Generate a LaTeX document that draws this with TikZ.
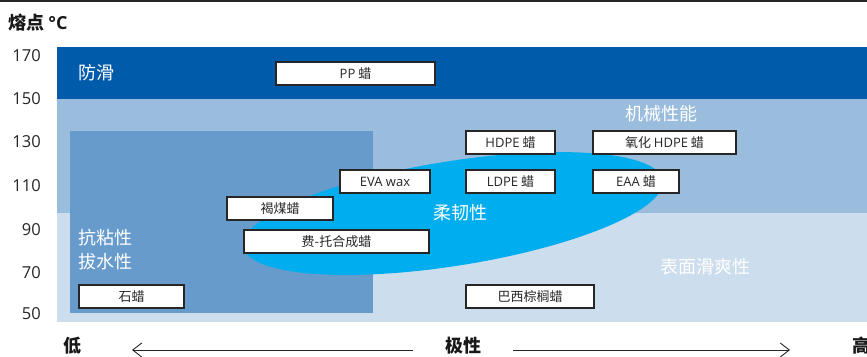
\documentclass[tikz,border=0pt]{standalone}
\usepackage{fontspec}
\setmainfont{Noto Sans CJK SC}
\newfontfamily\lat{Open Sans}
\usetikzlibrary{arrows.meta}
\definecolor{dblue}{RGB}{0,91,170}
\definecolor{mblue}{RGB}{155,189,221}
\definecolor{lblue}{RGB}{204,221,238}
\definecolor{iblue}{RGB}{102,155,204}
\definecolor{cyanell}{RGB}{0,174,239}
\tikzset{
  wbox/.style={draw=black!85, line width=1.3pt, fill=white, inner sep=0pt, minimum height=23pt, font=\fontsize{13}{15}\selectfont, text=black!85},
  ylab/.style={anchor=east, inner sep=0pt, font=\lat\fontsize{16.5}{19}\selectfont, text=black!85},
  wlab/.style={anchor=west, inner sep=0pt, font=\fontsize{18}{20}\selectfont, text=white},
  axlab/.style={inner sep=0pt, font=\bfseries\fontsize{18}{20}\selectfont, text=black!90},
  axarrow/.style={line width=1pt, black!85, -{Straight Barb[length=9pt,width=14pt,line width=0.9pt]}}
}
\begin{document}
\begin{tikzpicture}[x=1pt,y=-1pt]
\useasboundingbox (0,0) rectangle (867,356);
% top rule
\draw[line width=1.5pt, black!85] (0,1) -- (867,1);
\node[axlab, anchor=west] (unit) at (8,23) {熔点 {\lat\bfseries °C}};
% bands
\fill[dblue] (57,47) rectangle (867,99);
\fill[mblue] (57,99) rectangle (867,212.5);
\fill[lblue] (57,212.5) rectangle (867,321.5);
\fill[iblue] (70,131) rectangle (373,313);
% ellipse
\fill[cyanell, rotate around={9:(453,213.5)}] (453,213.5) ellipse [x radius=212.4pt, y radius=52.3pt];
% y labels
\node[ylab] (y170) at (41,55.5) {170};
\node[ylab] (y150) at (41,99) {150};
\node[ylab] (y130) at (41,142) {130};
\node[ylab] (y110) at (41,185.5) {110};
\node[ylab] (y90) at (41,229.5) {90};
\node[ylab] (y70) at (41,273) {70};
\node[ylab] (y50) at (41,314) {50};
% white labels
\node[wlab] (antislip) at (78,73) {防滑};
\node[wlab] (mech) at (625,114) {机械性能};
\node[wlab] (flex) at (433,213) {柔韧性};
\node[wlab] (surf) at (660,267) {表面滑爽性};
\node[wlab] (anti1) at (78,238) {抗粘性};
\node[wlab] (anti2) at (78,262) {拔水性};
% boxes
\node[wbox, minimum width=159pt] (pp) at (355.5,73.5) {{\lat PP} 蜡};
\node[wbox, minimum width=89pt] (hdpe) at (510.5,142.5) {{\lat HDPE} 蜡};
\node[wbox, minimum width=143pt] (ohdpe) at (664.5,142.5) {氧化 {\lat HDPE} 蜡};
\node[wbox, minimum width=90pt] (eva) at (385,181.5) {\lat EVA wax};
\node[wbox, minimum width=89pt] (ldpe) at (510.5,181.5) {{\lat LDPE} 蜡};
\node[wbox, minimum width=86pt] (eaa) at (636,181.5) {{\lat EAA} 蜡};
\node[wbox, minimum width=106pt] (lignite) at (280,208.5) {褐煤蜡};
\node[wbox, minimum width=185pt] (ft) at (336.5,241.5) {费-托合成蜡};
\node[wbox, minimum width=105pt] (paraffin) at (131.5,296.5) {石蜡};
\node[wbox, minimum width=128pt] (carnauba) at (530,296.5) {巴西棕榈蜡};
% bottom axis
\node[axlab] (low) at (72,346) {低};
\node[axlab] (pol) at (463,346) {极性};
\node[axlab, anchor=west] (high) at (852,346) {高};
\coordinate (lstart) at (413,350);
\coordinate (lend) at (132,350);
\coordinate (rstart) at (513,350);
\coordinate (rend) at (790,350);
\draw[axarrow] (lstart) -- (lend);
\draw[axarrow] (rstart) -- (rend);
\end{tikzpicture}
\end{document}
